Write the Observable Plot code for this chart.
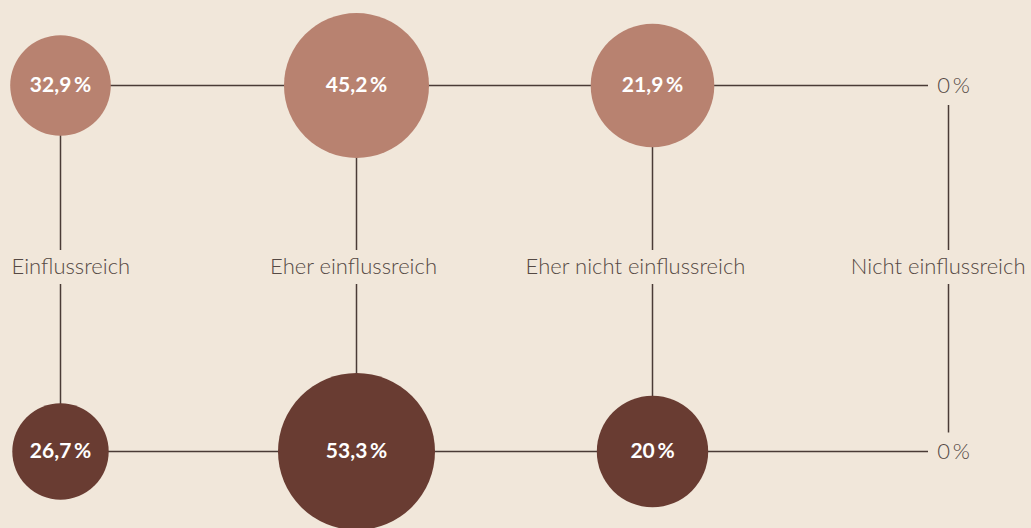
<!DOCTYPE html>
<html>
<head>
<meta charset="utf-8">
<script src="https://cdn.jsdelivr.net/npm/d3@7"></script>
<script src="https://cdn.jsdelivr.net/npm/@observablehq/plot@0.6"></script>
<style>
  html, body { margin: 0; padding: 0; background: #f1e7da; }
  #chart svg { display: block; }
</style>
</head>
<body>
<div id="chart"></div>
<script>
// ---- data ----
const categories = ["Einflussreich", "Eher einflussreich", "Eher nicht einflussreich", "Nicht einflussreich"];
const rows = ["oben", "unten"];            // two groups (top row / bottom row)
const topValues = [32.9, 45.2, 21.9, 0];
const bottomValues = [26.7, 53.3, 20, 0];

const data = [
  ...categories.map((c, i) => ({category: c, row: "oben", value: topValues[i]})),
  ...categories.map((c, i) => ({category: c, row: "unten", value: bottomValues[i]}))
];

const fmt = v => v.toLocaleString("de-DE") + "\u2009%";
const lineColor = "#4a3b36";
const textColor = "#554944";
const font = "Lato, 'Open Sans', sans-serif";

const chart = Plot.plot({
  width: 1031,
  height: 528,
  margin: 0,
  style: {background: "#f1e7da", fontFamily: font},
  x: {type: "point", domain: categories, range: [59, 948], padding: 0, axis: null},
  y: {type: "point", domain: ["oben", "mitte", "unten"], range: [84, 451.5], padding: 0, axis: null},
  // circle sizes in the original do not follow a single area rule; piecewise scale reproduces them
  r: {type: "linear", domain: [0, 20, 21.9, 26.7, 32.9, 45.2, 53.3], range: [0, 55.7, 61.8, 48.2, 50.3, 72.5, 78.5]},
  color: {domain: rows, range: ["#b88270", "#693c32"]},
  marks: [
    // horizontal connectors
    Plot.ruleY(rows, {y: d => d, x1: () => categories[0], x2: () => categories[categories.length - 1],
      insetRight: 20, stroke: lineColor, strokeWidth: 1.5}),
    // vertical connectors (upper and lower segment around the label)
    Plot.ruleX(categories, {x: d => d, y1: () => "oben", y2: () => "mitte",
      insetTop: 20, insetBottom: 18, stroke: lineColor, strokeWidth: 1.5}),
    Plot.ruleX(categories, {x: d => d, y1: () => "mitte", y2: () => "unten",
      insetTop: 16, insetBottom: 18.5, stroke: lineColor, strokeWidth: 1.5}),
    // circles
    Plot.dot(data.filter(d => d.value > 0), {x: "category", y: "row", r: "value", fill: "row", stroke: null}),
    // values in circles
    Plot.text(data.filter(d => d.value > 0), {x: "category", y: "row", text: d => fmt(d.value),
      fill: "white", fontWeight: "bold", fontSize: 21}),
    // zero values
    Plot.text(data.filter(d => d.value === 0), {x: "category", y: "row", text: d => fmt(d.value),
      fill: textColor, fontWeight: 300, fontSize: 22, dx: 5}),
    // category labels
    Plot.text([categories[0]], {x: d => d, y: () => "mitte", text: d => d, textAnchor: "start", dx: -49, dy: -2,
      fill: textColor, fontWeight: 300, fontSize: 22}),
    Plot.text([categories[1]], {x: d => d, y: () => "mitte", text: d => d, dx: -3, dy: -2,
      fill: textColor, fontWeight: 300, fontSize: 22}),
    Plot.text([categories[2]], {x: d => d, y: () => "mitte", text: d => d, dx: -17, dy: -2,
      fill: textColor, fontWeight: 300, fontSize: 22}),
    Plot.text([categories[3]], {x: d => d, y: () => "mitte", text: d => d, textAnchor: "end", dx: 77, dy: -2,
      fill: textColor, fontWeight: 300, fontSize: 22})
  ]
});
document.getElementById("chart").appendChild(chart);
</script>
</body>
</html>
